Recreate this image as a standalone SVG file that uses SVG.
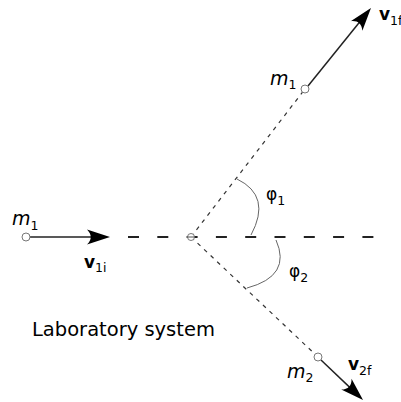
<svg xmlns="http://www.w3.org/2000/svg" width="401" height="402" viewBox="0 0 401 402">
  <style>
    .vec { stroke: #222; stroke-width: 1.5; fill: none; marker-end: url(#arrow); }
    .dot { stroke: #333; stroke-width: 1.2; stroke-dasharray: 4 5; fill: none; }
    .dash { stroke: #222; stroke-width: 2; stroke-dasharray: 11 18.3; fill: none; }
    .angle { stroke: #666; stroke-width: 1; fill: none; }
    .pt { fill: #fff; stroke: #777; stroke-width: 1; }
    .m { font-family: "DejaVu Sans", sans-serif; font-style: oblique; font-size: 19px; fill: #000; }
    .v { font-family: "DejaVu Sans", sans-serif; font-weight: bold; font-size: 17px; fill: #000; }
    .phi { font-family: "DejaVu Sans", sans-serif; font-size: 17px; fill: #000; }
    .sub { font-size: 12.5px; font-style: normal; font-weight: normal; }
    .label { font-family: "DejaVu Sans", sans-serif; font-size: 19.5px; fill: #000; }
  </style>
  <defs>
    <marker id="arrow" markerUnits="userSpaceOnUse" viewBox="-24 -8 25 16" markerWidth="25" markerHeight="16" refX="-10" refY="0" orient="auto">
      <path d="M0,0 L-23,-7.5 C-18,-2.5 -18,2.5 -23,7.5 Z" fill="#000"/>
    </marker>
  </defs>
  <rect width="401" height="402" fill="#fff"/>
  <g id="connectors">
    <line class="dash" x1="128" y1="237" x2="374" y2="237"/>
    <line class="dot" x1="191" y1="237" x2="305" y2="89"/>
    <line class="dot" x1="191" y1="237" x2="318" y2="357"/>
    <path class="angle" d="M237,179 Q272,196 251,235"/>
    <path class="angle" d="M276,240 Q292,276 247,288"/>
    <line class="vec" x1="30" y1="237" x2="100" y2="237"/>
    <line class="vec" x1="308" y1="86" x2="364.7" y2="15.8"/>
    <line class="vec" x1="321" y1="360" x2="355.8" y2="393.1"/>
  </g>
  <g id="center">
    <circle class="pt" cx="191" cy="237" r="3.5"/>
    <line x1="187" y1="237" x2="195" y2="237" stroke="#555" stroke-width="1"/>
  </g>
  <g id="m1-initial">
    <circle class="pt" cx="26" cy="237" r="4"/>
    <text class="m" x="12" y="225">m<tspan class="sub" dy="5">1</tspan></text>
    <text class="v" x="84" y="268">v<tspan class="sub" dy="4">1i</tspan></text>
  </g>
  <g id="m1-final">
    <circle class="pt" cx="305" cy="89" r="4"/>
    <text class="m" x="270" y="85">m<tspan class="sub" dy="4">1</tspan></text>
    <text class="v" x="379" y="20">v<tspan class="sub" dy="5">1f</tspan></text>
  </g>
  <g id="m2-final">
    <circle class="pt" cx="318" cy="357" r="4"/>
    <text class="m" x="287" y="378">m<tspan class="sub" dy="4">2</tspan></text>
    <text class="v" x="348" y="370">v<tspan class="sub" dy="5">2f</tspan></text>
  </g>
  <g id="angles">
    <text class="phi" x="266" y="200">φ<tspan class="sub" dy="5">1</tspan></text>
    <text class="phi" x="289" y="277">φ<tspan class="sub" dy="5">2</tspan></text>
  </g>
  <g id="caption">
    <text class="label" x="32" y="336">Laboratory system</text>
  </g>
</svg>
